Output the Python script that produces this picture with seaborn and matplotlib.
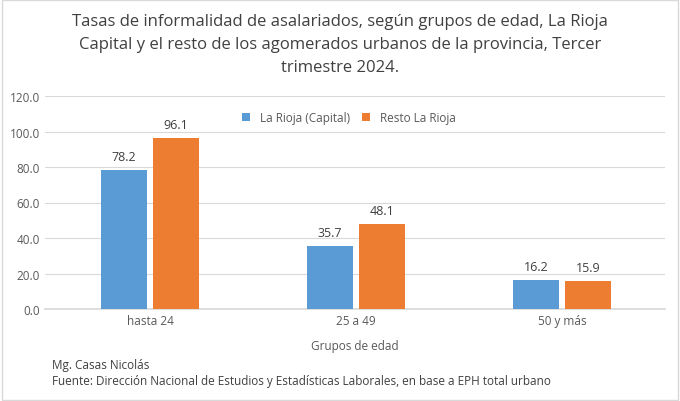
import matplotlib
matplotlib.use("Agg")
import matplotlib.pyplot as plt
import seaborn as sns
import pandas as pd

categories = ["hasta 24", "25 a 49", "50 y más"]
series = ["La Rioja (Capital)", "Resto La Rioja"]
capital = [78.2, 35.7, 16.2]
resto = [96.1, 48.1, 15.9]
yticks = [0, 20, 40, 60, 80, 100, 120]

df = pd.DataFrame({
    "cat": categories * 2,
    "serie": [series[0]] * 3 + [series[1]] * 3,
    "val": capital + resto,
})

sns.set_theme(style="white")
plt.rcParams['font.family'] = ['Open Sans', 'DejaVu Sans']
fig = plt.figure(figsize=(6.8, 4.02), dpi=100)
ax = fig.add_axes([45/680, 1 - 310/402, 620/680, 213/402])
sns.barplot(data=df, x="cat", y="val", hue="serie", order=categories,
            palette=["#5B9BD5", "#ED7D31"], saturation=1, width=0.505, gap=0.1,
            linewidth=0, ax=ax, zorder=3)
ax.set_ylim(0, 120)
ax.set_xlim(-0.51, 2.5)
ax.set_yticks(yticks)
ax.set_yticklabels([f"{v:.1f}" for v in yticks], fontsize=8.5, color="#595959")
ax.tick_params(axis="x", labelsize=8.5, colors="#595959", length=0)
ax.tick_params(axis="y", length=0)
ax.yaxis.grid(True, color="#D9D9D9", linewidth=0.8, zorder=0)
for s in ["top", "right", "left"]:
    ax.spines[s].set_visible(False)
ax.spines["bottom"].set_color("#D9D9D9")
ax.set_ylabel("")
ax.set_xlabel("Grupos de edad", fontsize=8.5, color="#595959", labelpad=9)
for c in ax.containers:
    ax.bar_label(c, fmt="%.1f", padding=5, fontsize=9, color="#404040")
ax.legend(loc="upper center", bbox_to_anchor=(0.49, 0.98), ncol=2, frameon=False,
          fontsize=8.5, handlelength=0.7, handleheight=0.7, columnspacing=1.0,
          labelcolor="#595959")
fig.text(0.5, 1 - 45/402, "Tasas de informalidad de asalariados, según grupos de edad, La Rioja\n"
         "Capital y el resto de los agomerados urbanos de la provincia, Tercer\ntrimestre 2024.",
         ha="center", va="center", fontsize=12, color="#404040", linespacing=1.55)
fig.text(52/680, 1 - 366/402, "Mg. Casas Nicolás", fontsize=8.5, color="#404040", va="center")
fig.text(52/680, 1 - 382/402, "Fuente: Dirección Nacional de Estudios y Estadísticas Laborales, en base a EPH total urbano",
         fontsize=8.5, color="#404040", va="center")
fig.patches.append(plt.Rectangle((0.003, 0.003), 0.994, 0.994, transform=fig.transFigure,
                                 fill=False, edgecolor="#D9D9D9", linewidth=1))
fig.savefig("out.png", dpi=100)
